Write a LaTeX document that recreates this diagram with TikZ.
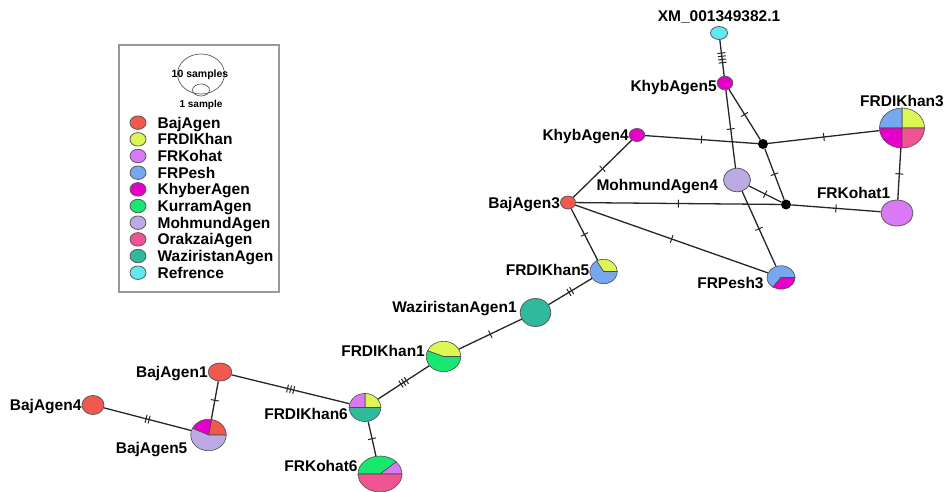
\documentclass[tikz,border=0pt]{standalone}
\usepackage{fontspec}
\setmainfont{Liberation Sans}
\usetikzlibrary{shapes,positioning,decorations.markings}
\definecolor{baj}{RGB}{241,88,78}
\definecolor{khan}{RGB}{222,246,84}
\definecolor{kohat}{RGB}{217,121,245}
\definecolor{pesh}{RGB}{118,168,240}
\definecolor{khyb}{RGB}{228,0,200}
\definecolor{kurram}{RGB}{24,232,112}
\definecolor{mohm}{RGB}{188,170,228}
\definecolor{orak}{RGB}{241,84,146}
\definecolor{wazir}{RGB}{48,186,156}
\definecolor{refr}{RGB}{96,234,240}
\tikzstyle{hap} = [draw=black!65, ellipse, inner sep=0pt, line width=0.8pt]
\tikzstyle{pie} = [ellipse, inner sep=0pt]
\tikzstyle{median} = [fill=black, circle, inner sep=0pt, minimum size=10pt]
\tikzstyle{lbl} = [inner sep=0pt, text height=11pt, text depth=0pt, font=\bfseries\fontsize{15.5}{18}\selectfont]
\tikzstyle{edge} = [draw, line width=1.3pt, black!85]
\tikzstyle{legbox} = [draw=black!40, line width=1.6pt, rectangle, inner sep=0pt]
\tikzset{sz/.style 2 args={minimum width=#1, minimum height=#2},
  mut/.style={postaction={decorate, decoration={markings, mark=at position 0.5 with
    {\foreach \k in {1,...,#1} {\draw[line width=1pt] ({(\k-(#1+1)/2)*3.2pt},-4pt) -- ++(0pt,8pt);}}}}}}
% slice of a pie node: node, start, end, colour, x radius, y radius
\newcommand{\hapslice}[6]{\filldraw[draw=black!70, line width=0.6pt, fill=#4] (#1.center) -- ++(#2:#5pt and #6pt)
  arc[start angle=#2, end angle=#3, x radius=#5pt, y radius=#6pt] -- cycle;}

\begin{document}
\begin{tikzpicture}[x=1pt, y=-1pt]
	\useasboundingbox (0,0) rectangle (944,492);
	
	% legend
	\node [legbox, anchor=north west, minimum width=160pt, minimum height=247pt] (legend) at (118,44) {};
	\node [draw=black!65, ellipse, inner sep=0pt, sz={47pt}{40pt}, line width=0.7pt] (ten) at (201,74) {};
	\node [draw=black!65, ellipse, inner sep=0pt, sz={17pt}{12pt}, line width=0.7pt] (one) at (201,90) {};
	\node [font=\bfseries\fontsize{10.5}{12}\selectfont, inner sep=0pt] (tentxt) at (200,75) {10 samples};
	\node [font=\bfseries\fontsize{10}{12}\selectfont, inner sep=0pt, below=4pt of one] (onetxt) {1 sample};
	\foreach \c/\t [count=\i] in {baj/BajAgen, khan/FRDIKhan, kohat/FRKohat, pesh/FRPesh, khyb/KhyberAgen,
		kurram/KurramAgen, mohm/MohmundAgen, orak/OrakzaiAgen, wazir/WaziristanAgen, refr/Refrence}
	{
		\node [hap, fill=\c, sz={16pt}{13.5pt}] (dot\i) at (138,{106+16.67*\i}) {};
		\node [lbl, right=11pt of dot\i] (txt\i) {\t};
	}
	
	% haplotypes
	\node [hap, fill=refr, sz={17pt}{13pt}] (XM) at (719,33) {};
	\node [hap, fill=khyb, sz={15.5pt}{13.5pt}] (KhybAgen5) at (725,83) {};
	\node [hap, fill=khyb, sz={15.5pt}{13pt}] (KhybAgen4) at (637,135) {};
	\node [pie, sz={45pt}{40pt}] (FRDIKhan3) at (902,128) {};
	\node [hap, fill=mohm, sz={27pt}{23.5pt}] (MohmundAgen4) at (737,180) {};
	\node [hap, fill=baj, sz={15pt}{13pt}] (BajAgen3) at (568,202.5) {};
	\node [hap, fill=kohat, sz={32pt}{26pt}] (FRKohat1) at (897,213) {};
	\node [pie, sz={27.5pt}{24.5pt}] (FRDIKhan5) at (603.5,271.5) {};
	\node [pie, sz={28pt}{23.5pt}] (FRPesh3) at (781,277.5) {};
	\node [hap, fill=wazir, sz={30.5pt}{28pt}] (WaziristanAgen1) at (535.5,312.5) {};
	\node [pie, sz={34.5pt}{30.5pt}] (FRDIKhan1) at (443.5,356.5) {};
	\node [pie, sz={31.5pt}{28pt}] (FRDIKhan6) at (365,407.5) {};
	\node [hap, fill=baj, sz={23.5pt}{18pt}] (BajAgen1) at (220,372) {};
	\node [hap, fill=baj, sz={22pt}{19pt}] (BajAgen4) at (93,405) {};
	\node [pie, sz={35.5pt}{31.5pt}] (BajAgen5) at (208.5,435) {};
	\node [pie, sz={44pt}{36pt}] (FRKohat6) at (380,474) {};
	\node [median] (med1) at (763,144) {};
	\node [median] (med2) at (786,204.5) {};
	
	% labels
	\node [lbl, above=4pt of XM] (lXM) {XM\_001349382.1};
	\node [lbl, left=0pt of KhybAgen5, yshift=-3pt] (lKhybAgen5) {KhybAgen5};
	\node [lbl, left=0pt of KhybAgen4] (lKhybAgen4) {KhybAgen4};
	\node [lbl, above=1pt of FRDIKhan3] (lFRDIKhan3) {FRDIKhan3};
	\node [lbl, left=5pt of MohmundAgen4, yshift=-5pt] (lMohmundAgen4) {MohmundAgen4};
	\node [lbl, left=0pt of BajAgen3] (lBajAgen3) {BajAgen3};
	\node [lbl, above left=5pt and -5pt of FRKohat1] (lFRKohat1) {FRKohat1};
	\node [lbl, left=0pt of FRDIKhan5, yshift=2pt] (lFRDIKhan5) {FRDIKhan5};
	\node [lbl, left=3pt of FRPesh3, yshift=-5pt] (lFRPesh3) {FRPesh3};
	\node [lbl, left=3pt of WaziristanAgen1, yshift=6pt] (lWaziristanAgen1) {WaziristanAgen1};
	\node [lbl, left=1pt of FRDIKhan1, yshift=6pt] (lFRDIKhan1) {FRDIKhan1};
	\node [lbl, left=1pt of FRDIKhan6, yshift=-6pt] (lFRDIKhan6) {FRDIKhan6};
	\node [lbl, left=0pt of BajAgen1] (lBajAgen1) {BajAgen1};
	\node [lbl, left=0pt of BajAgen4] (lBajAgen4) {BajAgen4};
	\node [lbl, left=3pt of BajAgen5, yshift=-13pt] (lBajAgen5) {BajAgen5};
	\node [lbl, left=0pt of FRKohat6, yshift=8pt] (lFRKohat6) {FRKohat6};
	
	% links, ticks = mutations
	\path [edge, mut=4] (XM) -- (KhybAgen5);
	\path [edge, mut=1] (KhybAgen5) -- (med1);
	\path [edge, mut=1] (KhybAgen5) -- (MohmundAgen4);
	\path [edge, mut=1] (KhybAgen4) -- (med1);
	\path [edge, mut=1] (med1) -- (FRDIKhan3);
	\path [edge, mut=1] (med1) -- (med2);
	\path [edge, mut=1] (FRDIKhan3) -- (FRKohat1);
	\path [edge, mut=1] (KhybAgen4) -- (BajAgen3);
	\path [edge, mut=1] (BajAgen3) -- (med2);
	\path [edge, mut=1] (MohmundAgen4) -- (med2);
	\path [edge, mut=1] (med2) -- (FRKohat1);
	\path [edge, mut=1] (MohmundAgen4) -- (FRPesh3);
	\path [edge, mut=1] (BajAgen3) -- (FRPesh3);
	\path [edge, mut=1] (BajAgen3) -- (FRDIKhan5);
	\path [edge, mut=2] (FRDIKhan5) -- (WaziristanAgen1);
	\path [edge, mut=1] (WaziristanAgen1) -- (FRDIKhan1);
	\path [edge, mut=3] (FRDIKhan1) -- (FRDIKhan6);
	\path [edge, mut=3] (FRDIKhan6) -- (BajAgen1);
	\path [edge, mut=1] (FRDIKhan6) -- (FRKohat6);
	\path [edge, mut=1] (BajAgen1) -- (BajAgen5);
	\path [edge, mut=2] (BajAgen4) -- (BajAgen5);
	
	% pies
	\hapslice{FRDIKhan3}{0}{90}{khan}{22.5}{20}
	\hapslice{FRDIKhan3}{90}{180}{pesh}{22.5}{20}
	\hapslice{FRDIKhan3}{180}{270}{khyb}{22.5}{20}
	\hapslice{FRDIKhan3}{270}{360}{orak}{22.5}{20}
	\hapslice{FRDIKhan5}{0}{120}{khan}{13.75}{12.25}
	\hapslice{FRDIKhan5}{120}{360}{pesh}{13.75}{12.25}
	\hapslice{FRPesh3}{0}{235}{pesh}{14}{11.75}
	\hapslice{FRPesh3}{-125}{0}{khyb}{14}{11.75}
	\hapslice{FRDIKhan1}{0}{158}{khan}{17.25}{15.25}
	\hapslice{FRDIKhan1}{158}{360}{kurram}{17.25}{15.25}
	\hapslice{FRDIKhan6}{0}{90}{khan}{15.75}{14}
	\hapslice{FRDIKhan6}{90}{180}{kohat}{15.75}{14}
	\hapslice{FRDIKhan6}{180}{360}{wazir}{15.75}{14}
	\hapslice{BajAgen5}{0}{80}{baj}{17.75}{15.75}
	\hapslice{BajAgen5}{80}{155}{khyb}{17.75}{15.75}
	\hapslice{BajAgen5}{155}{360}{mohm}{17.75}{15.75}
	\hapslice{FRKohat6}{0}{43}{kohat}{22}{18}
	\hapslice{FRKohat6}{43}{180}{kurram}{22}{18}
	\hapslice{FRKohat6}{180}{360}{orak}{22}{18}
	
\end{tikzpicture}
\end{document}
